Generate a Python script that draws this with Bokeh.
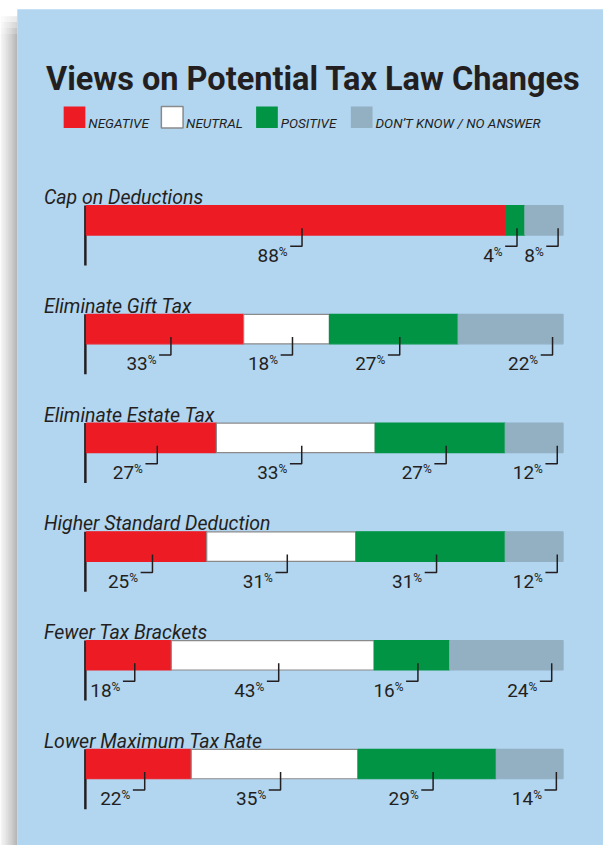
from bokeh.plotting import figure
from bokeh.models import Range1d, ColumnDataSource
from bokeh.embed import file_html
from bokeh.resources import INLINE
from bokeh.core.properties import value

# ---------------- data ----------------
categories = ["Cap on Deductions", "Eliminate Gift Tax", "Eliminate Estate Tax",
              "Higher Standard Deduction", "Fewer Tax Brackets", "Lower Maximum Tax Rate"]
negative = [88, 33, 27, 25, 18, 22]
neutral = [0, 18, 33, 31, 43, 35]
positive = [4, 27, 27, 31, 16, 29]
dont_know = [8, 22, 12, 12, 24, 14]
series_names = ["NEGATIVE", "NEUTRAL", "POSITIVE", "DON\u2019T KNOW / NO ANSWER"]
title = "Views on Potential Tax Law Changes"

# ---------------- style ----------------
colors = ["#ed1c24", "#ffffff", "#009444", "#93b0c3"]
edge = ["#ed1c24", "#8a8a8a", "#009444", "#93b0c3"]
BLUE = "#b2d5f0"
INK = "#231f20"
FONT = value("Roboto")

W, H = 603, 845
REF_W, REF_H = 611, 861


def X(px):                    # reference pixel -> data x (percent)
    return (px - 87) * 100.0 / 483.0


def Y(py):                    # reference pixel -> data y
    return py


p = figure(width=W, height=H, x_range=Range1d(X(0), X(REF_W)), y_range=Range1d(Y(REF_H), Y(0)),
           x_axis_type=None, y_axis_type=None, output_backend="svg", toolbar_location=None,
           min_border=0, outline_line_color=None)
p.background_fill_color = "white"
p.border_fill_color = "white"

# shadow on the left of the panel
n = 17
for k in range(n):
    g = int(0xf3 - (0xf3 - 0xa5) * (k / (n - 1)) ** 1.1)
    c = "#%02x%02x%02x" % (g, g, g)
    p.quad(left=X(k), right=X(k + 1.05), top=Y(34), bottom=Y(REF_H), fill_color=c, line_color=None)
    for j, a in enumerate([0.25, 0.5, 0.75]):
        p.quad(left=X(k), right=X(k + 1.05), top=Y(16 + 6 * j), bottom=Y(22 + 6 * j),
               fill_color=c, line_color=None, fill_alpha=a)

# panel
p.quad(left=X(17), right=X(REF_W), top=Y(9), bottom=Y(REF_H), fill_color=BLUE, line_color=None)

# title
p.text(x=[X(46)], y=[Y(80)], text=[title], text_font=FONT, text_font_style="bold",
       text_font_size="32.5px", text_color=INK, text_baseline="alphabetic", text_align="left")

# legend
box_x = [64, 163, 259, 355]
for k, name in enumerate(series_names):
    p.quad(left=X(box_x[k]), right=X(box_x[k] + 22), top=Y(108), bottom=Y(130),
           fill_color=colors[k], line_color=edge[k] if k == 1 else None, line_width=1.5)
    p.text(x=[X(box_x[k] + 25)], y=[Y(125)], text=[name], text_font=FONT,
           text_font_style="italic", text_font_size="13.5px", text_color=INK,
           text_baseline="alphabetic", text_align="left")

# bars
series = [negative, neutral, positive, dont_know]
seg = {"y": [], "left": [], "right": [], "fill": [], "line": []}
lead_xs, lead_ys = [], []
num_x, num_y, num_t = [], [], []
pc_x, pc_y = [], []
lab_x, lab_y = [], []
axis_xs, axis_ys = [], []
BAR_H = 30
for i, cat in enumerate(categories):
    top = 209 + i * 110.8
    yc = Y(top + BAR_H / 2)
    vals = [s[i] for s in series]
    total = float(sum(vals))
    cum = 0.0
    nonzero = [k for k, v in enumerate(vals) if v > 0]
    for k, v in enumerate(vals):
        if v == 0:
            continue
        left = cum / total * 100
        cum += v
        right = cum / total * 100
        seg["y"].append(yc)
        seg["left"].append(left)
        seg["right"].append(right)
        seg["fill"].append(colors[k])
        seg["line"].append(edge[k])
        # leader position (reference pixels)
        lpx = 87 + left * 4.83
        rpx = 87 + right * 4.83
        wpx = rpx - lpx
        if k == nonzero[-1]:
            tick = rpx - max(5, 0.1 * wpx)
        else:
            tick = min((lpx + rpx) / 2 + 6, rpx - 8)
        bot = top + BAR_H
        lead_xs.append([X(tick), X(tick), X(tick - 12)])
        lead_ys.append([Y(bot - 7), Y(bot + 11.5), Y(bot + 11.5)])
        num_x.append(X(tick - 23.5))
        num_y.append(Y(bot + 20.5))
        num_t.append(str(v))
        pc_x.append(X(tick - 23.5))
        pc_y.append(Y(bot + 17))
    lab_x.append(X(44))
    lab_y.append(Y(top - 8))
    axis_xs.append([X(86), X(86)])
    axis_ys.append([Y(top), Y(top + 61)])

p.multi_line(xs=axis_xs, ys=axis_ys, line_color=INK, line_width=2.5)
src = ColumnDataSource(seg)
p.hbar(y="y", left="left", right="right", height=BAR_H, fill_color="fill", line_color="line",
       line_width=1.2, source=src)
p.multi_line(xs=lead_xs, ys=lead_ys, line_color=INK, line_width=1.5)
p.text(x=num_x, y=num_y, text=num_t, text_font=FONT, text_font_size="19px", text_color=INK,
       text_baseline="alphabetic", text_align="right")
p.text(x=pc_x, y=pc_y, text=["%"] * len(pc_x), text_font=FONT, text_font_size="12px",
       text_color=INK, text_baseline="alphabetic", text_align="left")
p.text(x=lab_x, y=lab_y, text=categories, text_font=FONT, text_font_style="italic",
       text_font_size="19.5px", text_color=INK, text_baseline="alphabetic", text_align="left")

open("out.html", "w").write(file_html(p, INLINE))
